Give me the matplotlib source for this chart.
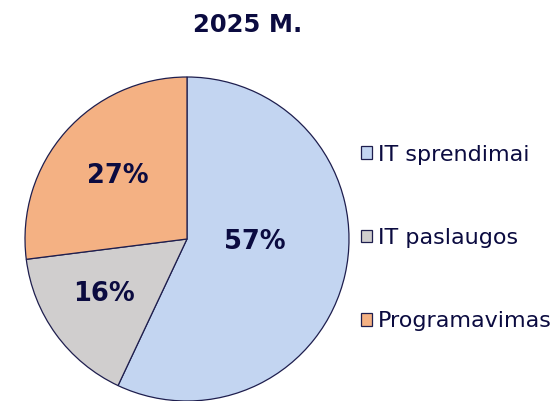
import numpy as np
import matplotlib
matplotlib.use("Agg")
import matplotlib.pyplot as plt

title = "2025 M."
categories = ["IT sprendimai", "IT paslaugos", "Programavimas"]
shares = [57, 16, 27]
colors = ["#C3D5F1", "#D0CECE", "#F4B183"]

navy = "#0B0B40"
edge = "#1E1E4E"

# label placement inside each slice (x, y in pie radius units)
pct_pos = [(0.42, -0.02), (-0.51, -0.34), (-0.43, 0.39)]

plt.rcParams["font.family"] = ["DejaVu Sans"]

fig = plt.figure(figsize=(5.59, 4.01), dpi=100)
ax = fig.add_axes([25 / 559, 0.0, 324 / 559, 324 / 401])

wedges, texts, autotexts = ax.pie(
    shares,
    colors=colors,
    startangle=90,
    counterclock=False,
    autopct="%d%%",
    wedgeprops=dict(edgecolor=edge, linewidth=0.9),
    textprops=dict(color=navy, fontsize=18.5, fontweight="bold"),
)
for t, pos in zip(autotexts, pct_pos):
    t.set_position(pos)
    t.set_ha("center")
    t.set_va("center")
for w in wedges:
    w.set_clip_on(False)
ax.set_xlim(-1, 1)
ax.set_ylim(-1, 1)
ax.set_aspect("equal")

fig.text(248 / 559, 1 - 25 / 401, title, ha="center", va="center",
         fontsize=17.5, fontweight="bold", color=navy)

leg = fig.legend(
    wedges, categories,
    loc="center left",
    bbox_to_anchor=(361 / 559, 1 - 238 / 401),
    frameon=False,
    fontsize=16,
    labelcolor=navy,
    handlelength=0.5,
    handleheight=0.5,
    handletextpad=0.25,
    labelspacing=2.85,
    borderpad=0,
    borderaxespad=0,
)

fig.savefig("out.png", dpi=100)
